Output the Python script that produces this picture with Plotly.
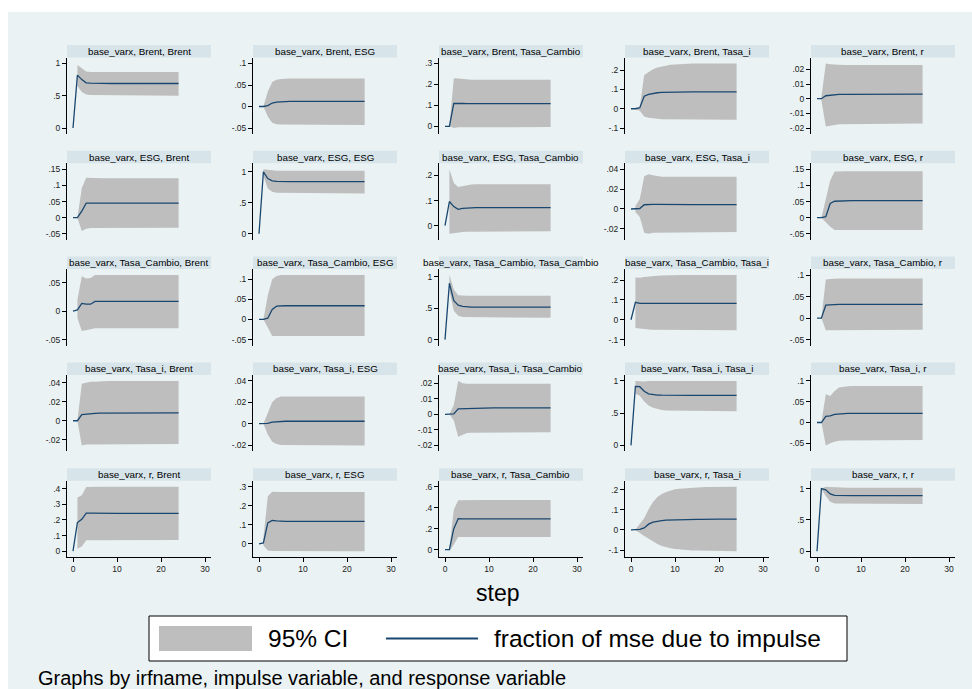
import plotly.graph_objects as go

# ---------------------------------------------------------------------------
# Forecast-error variance decomposition, steps 0..24
# rows = impulse variable, columns = response variable
# ---------------------------------------------------------------------------
irf_name = "base_varx"
variables = ["Brent", "ESG", "Tasa_Cambio", "Tasa_i", "r"]
x_ticks = [0, 10, 20, 30]

# impulse: Brent
brent_brent    = [0, .82, .75, .70, .695,  .692, .69, .69, .69, .69,  .69, .69, .69, .69, .69,  .69, .69, .69, .69, .69,  .69, .69, .69, .69, .69]
brent_brent_lo = [None, .65, .56, .52, .51,  .505, .50, .50, .50, .50,  .50, .50, .50, .50, .50,  .50, .50, .50, .50, .50,  .50, .50, .50, .50, .50]
brent_brent_hi = [None, .975, .92, .875, .87,  .87, .87, .87, .87, .87,  .87, .87, .87, .87, .87,  .87, .87, .87, .87, .87,  .87, .87, .87, .87, .87]
brent_brent_ticks = [0, .5, 1]

brent_esg    = [0, 0, .002, .008, .010,  .011, .0115, .012, .012, .012,  .012, .012, .012, .012, .012,  .012, .012, .012, .012, .012,  .012, .012, .012, .012, .012]
brent_esg_lo = [None, 0, -.023, -.038, -.041,  -.042, -.043, -.043, -.043, -.043,  -.043, -.043, -.043, -.043, -.043,  -.043, -.043, -.043, -.043, -.043,  -.043, -.043, -.043, -.043, -.043]
brent_esg_hi = [None, 0, .035, .057, .062,  .064, .065, .065, .065, .065,  .065, .065, .065, .065, .065,  .065, .065, .065, .065, .065,  .065, .065, .065, .065, .065]
brent_esg_ticks = [-.05, 0, .05, .1]

brent_tc    = [0, 0, .110, .111, .109,  .108, .108, .108, .108, .108,  .108, .108, .108, .108, .108,  .108, .108, .108, .108, .108,  .108, .108, .108, .108, .108]
brent_tc_lo = [None, 0, -.008, -.005, -.004,  -.003, -.003, -.003, -.003, -.003,  -.003, -.003, -.003, -.003, -.003,  -.003, -.003, -.003, -.003, -.003,  -.003, -.003, -.003, -.003, -.003]
brent_tc_hi = [None, 0, .230, .228, .225,  .223, .222, .222, .222, .222,  .222, .222, .222, .222, .222,  .222, .222, .222, .222, .222,  .222, .222, .222, .222, .222]
brent_tc_ticks = [0, .1, .2, .3]

brent_ti    = [0, 0, .005, .065, .075,  .080, .083, .085, .086, .087,  .087, .088, .088, .088, .088,  .088, .088, .088, .088, .088,  .088, .088, .088, .088, .088]
brent_ti_lo = [None, -.005, -.010, -.040, -.047,  -.050, -.052, -.054, -.055, -.056,  -.056, -.057, -.057, -.057, -.057,  -.057, -.057, -.057, -.057, -.057,  -.057, -.057, -.057, -.057, -.057]
brent_ti_hi = [None, .005, .012, .175, .192,  .205, .214, .220, .225, .228,  .230, .232, .233, .234, .235,  .235, .235, .235, .235, .235,  .235, .235, .235, .235, .235]
brent_ti_ticks = [-.1, 0, .1, .2]

brent_r    = [0, 0, .002, .0025, .0028,  .003, .003, .003, .0031, .0031,  .0031, .0031, .0031, .0031, .0031,  .0031, .0031, .0031, .0031, .0031,  .0031, .0031, .0031, .0031, .0031]
brent_r_lo = [None, -.001, -.019, -.0185, -.018,  -.0175, -.017, -.017, -.017, -.017,  -.017, -.017, -.017, -.017, -.017,  -.017, -.017, -.017, -.017, -.017,  -.017, -.017, -.017, -.017, -.017]
brent_r_hi = [None, .001, .024, .0235, .0232,  .023, .023, .023, .023, .023,  .023, .023, .023, .023, .023,  .023, .023, .023, .023, .023,  .023, .023, .023, .023, .023]
brent_r_ticks = [-.02, -.01, 0, .01, .02]

# impulse: ESG
esg_brent    = [0, 0, .020, .045, .045,  .045, .045, .045, .045, .045,  .045, .045, .045, .045, .045,  .045, .045, .045, .045, .045,  .045, .045, .045, .045, .045]
esg_brent_lo = [None, 0, -.041, -.034, -.032,  -.031, -.031, -.031, -.031, -.031,  -.031, -.031, -.031, -.031, -.031,  -.031, -.031, -.031, -.031, -.031,  -.031, -.031, -.031, -.031, -.031]
esg_brent_hi = [None, 0, .092, .124, .123,  .122, .122, .122, .122, .122,  .122, .122, .122, .122, .122,  .122, .122, .122, .122, .122,  .122, .122, .122, .122, .122]
esg_brent_ticks = [-.05, 0, .05, .1, .15]

esg_esg    = [0, 1.0, .89, .855, .845,  .84, .84, .84, .84, .84,  .84, .84, .84, .84, .84,  .84, .84, .84, .84, .84,  .84, .84, .84, .84, .84]
esg_esg_lo = [None, .93, .73, .68, .66,  .655, .65, .65, .65, .65,  .65, .65, .65, .65, .65,  .65, .65, .65, .65, .65,  .65, .65, .65, .65, .65]
esg_esg_hi = [None, 1.04, 1.03, 1.02, 1.018,  1.016, 1.016, 1.016, 1.016, 1.016,  1.016, 1.016, 1.016, 1.016, 1.016,  1.016, 1.016, 1.016, 1.016, 1.016,  1.016, 1.016, 1.016, 1.016, 1.016]
esg_esg_ticks = [0, .5, 1]

esg_tc    = [0, .096, .076, .065, .069,  .071, .072, .072, .072, .072,  .072, .072, .072, .072, .072,  .072, .072, .072, .072, .072,  .072, .072, .072, .072, .072]
esg_tc_lo = [None, -.032, -.030, -.027, -.025,  -.024, -.023, -.022, -.022, -.022,  -.022, -.022, -.022, -.022, -.022,  -.022, -.022, -.022, -.022, -.022,  -.022, -.022, -.022, -.022, -.022]
esg_tc_hi = [None, .224, .170, .154, .158,  .162, .164, .165, .165, .165,  .165, .165, .165, .165, .165,  .165, .165, .165, .165, .165,  .165, .165, .165, .165, .165]
esg_tc_ticks = [0, .1, .2]

esg_ti    = [0, 0, .0005, .0043, .0048,  .0047, .0046, .0045, .0045, .0045,  .0045, .0045, .0045, .0045, .0045,  .0045, .0045, .0045, .0045, .0045,  .0045, .0045, .0045, .0045, .0045]
esg_ti_lo = [None, -.003, -.008, -.024, -.025,  -.024, -.0235, -.0233, -.0233, -.0233,  -.0233, -.0233, -.0233, -.0233, -.0233,  -.0233, -.0233, -.0233, -.0233, -.0233,  -.0233, -.0233, -.0233, -.0233, -.0233]
esg_ti_hi = [None, .003, .010, .033, .035,  .034, .033, .0325, .0325, .0325,  .0325, .0325, .0325, .0325, .0325,  .0325, .0325, .0325, .0325, .0325,  .0325, .0325, .0325, .0325, .0325]
esg_ti_ticks = [-.02, 0, .02, .04]

esg_r    = [0, 0, .003, .044, .051,  .052, .053, .053, .053, .053,  .053, .053, .053, .053, .053,  .053, .053, .053, .053, .053,  .053, .053, .053, .053, .053]
esg_r_lo = [None, 0, -.015, -.028, -.038,  -.038, -.038, -.038, -.038, -.038,  -.038, -.038, -.038, -.038, -.038,  -.038, -.038, -.038, -.038, -.038,  -.038, -.038, -.038, -.038, -.038]
esg_r_hi = [None, 0, .060, .115, .143,  .144, .144, .144, .144, .144,  .144, .144, .144, .144, .144,  .144, .144, .144, .144, .144,  .144, .144, .144, .144, .144]
esg_r_ticks = [-.05, 0, .05, .1, .15]

# impulse: Tasa_Cambio
tc_brent    = [0, .002, .0134, .012, .012,  .017, .017, .017, .017, .017,  .017, .017, .017, .017, .017,  .017, .017, .017, .017, .017,  .017, .017, .017, .017, .017]
tc_brent_lo = [None, -.012, -.035, -.033, -.032,  -.030, -.030, -.030, -.030, -.030,  -.030, -.030, -.030, -.030, -.030,  -.030, -.030, -.030, -.030, -.030,  -.030, -.030, -.030, -.030, -.030]
tc_brent_hi = [None, .020, .061, .057, .058,  .063, .063, .063, .063, .063,  .063, .063, .063, .063, .063,  .063, .063, .063, .063, .063,  .063, .063, .063, .063, .063]
tc_brent_ticks = [-.05, 0, .05]

tc_esg    = [0, 0, .003, .025, .033,  .034, .034, .034, .034, .034,  .034, .034, .034, .034, .034,  .034, .034, .034, .034, .034,  .034, .034, .034, .034, .034]
tc_esg_lo = [None, 0, -.020, -.041, -.041,  -.041, -.041, -.041, -.041, -.041,  -.041, -.041, -.041, -.041, -.041,  -.041, -.041, -.041, -.041, -.041,  -.041, -.041, -.041, -.041, -.041]
tc_esg_hi = [None, 0, .060, .100, .108,  .110, .110, .110, .110, .110,  .110, .110, .110, .110, .110,  .110, .110, .110, .110, .110,  .110, .110, .110, .110, .110]
tc_esg_ticks = [-.05, 0, .05, .1]

tc_tc    = [0, .90, .62, .55, .53,  .52, .52, .52, .52, .52,  .52, .52, .52, .52, .52,  .52, .52, .52, .52, .52,  .52, .52, .52, .52, .52]
tc_tc_lo = [None, .78, .46, .38, .36,  .35, .35, .35, .35, .35,  .35, .35, .35, .35, .35,  .35, .35, .35, .35, .35,  .35, .35, .35, .35, .35]
tc_tc_hi = [None, 1.03, .80, .71, .70,  .70, .70, .70, .70, .70,  .70, .70, .70, .70, .70,  .70, .70, .70, .70, .70,  .70, .70, .70, .70, .70]
tc_tc_ticks = [0, .5, 1]

tc_ti    = [0, .088, .083, .083, .084,  .085, .085, .084, .084, .083,  .083, .083, .083, .083, .083,  .083, .083, .083, .083, .083,  .083, .083, .083, .083, .083]
tc_ti_lo = [None, -.042, -.045, -.047, -.049,  -.050, -.051, -.052, -.053, -.053,  -.053, -.053, -.053, -.053, -.053,  -.053, -.053, -.053, -.053, -.053,  -.053, -.053, -.053, -.053, -.053]
tc_ti_hi = [None, .213, .212, .215, .218,  .220, .222, .223, .224, .225,  .225, .225, .225, .225, .225,  .225, .225, .225, .225, .225,  .225, .225, .225, .225, .225]
tc_ti_ticks = [-.1, 0, .1, .2]

tc_r    = [0, 0, .030, .031, .032,  .032, .032, .032, .032, .032,  .032, .032, .032, .032, .032,  .032, .032, .032, .032, .032,  .032, .032, .032, .032, .032]
tc_r_lo = [None, 0, -.028, -.028, -.027,  -.027, -.027, -.027, -.027, -.027,  -.027, -.027, -.027, -.027, -.027,  -.027, -.027, -.027, -.027, -.027,  -.027, -.027, -.027, -.027, -.027]
tc_r_hi = [None, 0, .090, .091, .092,  .092, .092, .092, .092, .092,  .092, .092, .092, .092, .092,  .092, .092, .092, .092, .092,  .092, .092, .092, .092, .092]
tc_r_ticks = [-.05, 0, .05, .1]

# impulse: Tasa_i
ti_brent    = [0, 0, .0064, .0070, .0075,  .0078, .0080, .0080, .0082, .0082,  .0082, .0082, .0082, .0082, .0082,  .0082, .0082, .0082, .0082, .0082,  .0082, .0082, .0082, .0082, .0082]
ti_brent_lo = [None, 0, -.026, -.025, -.0245,  -.0245, -.0245, -.0245, -.0245, -.0245,  -.0245, -.0245, -.0245, -.0245, -.0245,  -.0245, -.0245, -.0245, -.0245, -.0245,  -.0245, -.0245, -.0245, -.0245, -.0245]
ti_brent_hi = [None, 0, .039, .040, .041,  .041, .0415, .042, .042, .042,  .042, .042, .042, .042, .042,  .042, .042, .042, .042, .042,  .042, .042, .042, .042, .042]
ti_brent_ticks = [-.02, 0, .02, .04]

ti_esg    = [0, 0, .0003, .0015, .0020,  .0022, .0023, .0023, .0023, .0023,  .0023, .0023, .0023, .0023, .0023,  .0023, .0023, .0023, .0023, .0023,  .0023, .0023, .0023, .0023, .0023]
ti_esg_lo = [None, 0, -.010, -.017, -.019,  -.020, -.0203, -.0203, -.0203, -.0203,  -.0203, -.0203, -.0203, -.0203, -.0203,  -.0203, -.0203, -.0203, -.0203, -.0203,  -.0203, -.0203, -.0203, -.0203, -.0203]
ti_esg_hi = [None, 0, .010, .020, .024,  .0253, .0255, .0255, .0255, .0255,  .0255, .0255, .0255, .0255, .0255,  .0255, .0255, .0255, .0255, .0255,  .0255, .0255, .0255, .0255, .0255]
ti_esg_ticks = [-.02, 0, .02, .04]

ti_tc    = [0, 0, .0003, .0035, .0036,  .0038, .0040, .0040, .0041, .0041,  .0041, .0041, .0041, .0041, .0041,  .0041, .0041, .0041, .0041, .0041,  .0041, .0041, .0041, .0041, .0041]
ti_tc_lo = [None, 0, -.004, -.0145, -.013,  -.012, -.0118, -.0115, -.0115, -.0115,  -.0115, -.0115, -.0115, -.0115, -.0115,  -.0115, -.0115, -.0115, -.0115, -.0115,  -.0115, -.0115, -.0115, -.0115, -.0115]
ti_tc_hi = [None, 0, .006, .0215, .0200,  .0197, .0196, .0196, .0196, .0196,  .0196, .0196, .0196, .0196, .0196,  .0196, .0196, .0196, .0196, .0196,  .0196, .0196, .0196, .0196, .0196]
ti_tc_ticks = [-.02, -.01, 0, .01, .02]

ti_ti    = [0, .913, .91, .84, .80,  .787, .78, .778, .776, .775,  .775, .775, .775, .775, .775,  .775, .775, .775, .775, .775,  .775, .775, .775, .775, .775]
ti_ti_lo = [None, .80, .77, .68, .62,  .585, .565, .55, .54, .535,  .53, .53, .53, .53, .53,  .53, .53, .53, .53, .53,  .53, .53, .53, .53, .53]
ti_ti_hi = [None, 1.0, .99, .99, 1.0,  1.0, 1.0, 1.0, 1.0, 1.0,  1.0, 1.0, 1.0, 1.0, 1.0,  1.0, 1.0, 1.0, 1.0, 1.0,  1.0, 1.0, 1.0, 1.0, 1.0]
ti_ti_ticks = [0, .5, 1]

ti_r    = [0, 0, .015, .016, .0197,  .021, .0215, .022, .022, .022,  .022, .022, .022, .022, .022,  .022, .022, .022, .022, .022,  .022, .022, .022, .022, .022]
ti_r_lo = [None, 0, -.055, -.050, -.046,  -.044, -.043, -.042, -.042, -.042,  -.042, -.042, -.042, -.042, -.042,  -.042, -.042, -.042, -.042, -.042,  -.042, -.042, -.042, -.042, -.042]
ti_r_hi = [None, 0, .068, .064, .076,  .084, .086, .087, .088, .088,  .088, .088, .088, .088, .088,  .088, .088, .088, .088, .088,  .088, .088, .088, .088, .088]
ti_r_ticks = [-.05, 0, .05, .1]

# impulse: r
r_brent    = [0, .183, .204, .243, .243,  .242, .242, .242, .242, .242,  .242, .242, .242, .242, .242,  .242, .242, .242, .242, .242,  .242, .242, .242, .242, .242]
r_brent_lo = [None, .015, .030, .070, .071,  .072, .072, .072, .072, .072,  .072, .072, .072, .072, .072,  .072, .072, .072, .072, .072,  .072, .072, .072, .072, .072]
r_brent_hi = [None, .343, .357, .410, .412,  .412, .412, .412, .412, .412,  .412, .412, .412, .412, .412,  .412, .412, .412, .412, .412,  .412, .412, .412, .412, .412]
r_brent_ticks = [0, .1, .2, .3, .4]

r_esg    = [0, .005, .110, .123, .120,  .118, .118, .118, .118, .118,  .118, .118, .118, .118, .118,  .118, .118, .118, .118, .118,  .118, .118, .118, .118, .118]
r_esg_lo = [None, -.009, -.035, -.038, -.039,  -.039, -.039, -.039, -.039, -.039,  -.039, -.039, -.039, -.039, -.039,  -.039, -.039, -.039, -.039, -.039,  -.039, -.039, -.039, -.039, -.039]
r_esg_hi = [None, .030, .250, .274, .272,  .272, .272, .272, .272, .272,  .272, .272, .272, .272, .272,  .272, .272, .272, .272, .272,  .272, .272, .272, .272, .272]
r_esg_ticks = [0, .1, .2, .3]

r_tc    = [0, 0, .200, .295, .293,  .293, .294, .294, .294, .294,  .294, .294, .294, .294, .294,  .294, .294, .294, .294, .294,  .294, .294, .294, .294, .294]
r_tc_lo = [None, -.015, .050, .120, .120,  .120, .120, .120, .120, .120,  .120, .120, .120, .120, .120,  .120, .120, .120, .120, .120,  .120, .120, .120, .120, .120]
r_tc_hi = [None, .015, .380, .470, .472,  .473, .473, .473, .473, .473,  .473, .473, .473, .473, .473,  .473, .473, .473, .473, .473,  .473, .473, .473, .473, .473]
r_tc_ticks = [0, .2, .4, .6]

r_ti    = [0, 0, .003, .010, .029,  .039, .044, .047, .049, .050,  .051, .052, .052, .053, .053,  .053, .053, .054, .054, .054,  .054, .054, .054, .054, .054]
r_ti_lo = [None, -.002, -.015, -.030, -.045,  -.058, -.070, -.080, -.087, -.091,  -.095, -.098, -.100, -.101, -.102,  -.103, -.104, -.104, -.105, -.105,  -.105, -.106, -.106, -.106, -.106]
r_ti_hi = [None, .002, .030, .059, .103,  .140, .165, .180, .190, .198,  .203, .206, .208, .210, .211,  .212, .213, .214, .214, .215,  .215, .215, .216, .216, .216]
r_ti_ticks = [-.1, 0, .1, .2]

r_r    = [0, 1.0, .98, .915, .893,  .889, .888, .888, .888, .888,  .888, .888, .888, .888, .888,  .888, .888, .888, .888, .888,  .888, .888, .888, .888, .888]
r_r_lo = [None, .99, .88, .79, .76,  .757, .755, .755, .755, .755,  .755, .755, .755, .755, .755,  .755, .755, .755, .755, .755,  .755, .755, .755, .755, .755]
r_r_hi = [None, 1.0, 1.03, 1.025, 1.02,  1.017, 1.015, 1.015, 1.015, 1.015,  1.015, 1.015, 1.015, 1.015, 1.015,  1.015, 1.015, 1.015, 1.015, 1.015,  1.015, 1.015, 1.015, 1.015, 1.015]
r_r_ticks = [0, .5, 1]

panels = [
    [(brent_brent, brent_brent_lo, brent_brent_hi, brent_brent_ticks),
     (brent_esg, brent_esg_lo, brent_esg_hi, brent_esg_ticks),
     (brent_tc, brent_tc_lo, brent_tc_hi, brent_tc_ticks),
     (brent_ti, brent_ti_lo, brent_ti_hi, brent_ti_ticks),
     (brent_r, brent_r_lo, brent_r_hi, brent_r_ticks)],
    [(esg_brent, esg_brent_lo, esg_brent_hi, esg_brent_ticks),
     (esg_esg, esg_esg_lo, esg_esg_hi, esg_esg_ticks),
     (esg_tc, esg_tc_lo, esg_tc_hi, esg_tc_ticks),
     (esg_ti, esg_ti_lo, esg_ti_hi, esg_ti_ticks),
     (esg_r, esg_r_lo, esg_r_hi, esg_r_ticks)],
    [(tc_brent, tc_brent_lo, tc_brent_hi, tc_brent_ticks),
     (tc_esg, tc_esg_lo, tc_esg_hi, tc_esg_ticks),
     (tc_tc, tc_tc_lo, tc_tc_hi, tc_tc_ticks),
     (tc_ti, tc_ti_lo, tc_ti_hi, tc_ti_ticks),
     (tc_r, tc_r_lo, tc_r_hi, tc_r_ticks)],
    [(ti_brent, ti_brent_lo, ti_brent_hi, ti_brent_ticks),
     (ti_esg, ti_esg_lo, ti_esg_hi, ti_esg_ticks),
     (ti_tc, ti_tc_lo, ti_tc_hi, ti_tc_ticks),
     (ti_ti, ti_ti_lo, ti_ti_hi, ti_ti_ticks),
     (ti_r, ti_r_lo, ti_r_hi, ti_r_ticks)],
    [(r_brent, r_brent_lo, r_brent_hi, r_brent_ticks),
     (r_esg, r_esg_lo, r_esg_hi, r_esg_ticks),
     (r_tc, r_tc_lo, r_tc_hi, r_tc_ticks),
     (r_ti, r_ti_lo, r_ti_hi, r_ti_ticks),
     (r_r, r_r_lo, r_r_hi, r_r_ticks)],
]

# ---------------------------------------------------------------------------
# Styling
# ---------------------------------------------------------------------------
W, H = 972, 689
FONT = "Liberation Sans, Arial, Helvetica, sans-serif"
BG = "#EAF2F3"
STRIP = "#D7E4EA"
CI_FILL = "#BEBEBE"
NAVY = "#1A476F"

COL_X0, COL_STEP, PANEL_W = 67, 186, 144
ROW_Y0, ROW_STEP, STRIP_H, PANEL_H = 45, 105.8, 12.5, 89
PAD_PX = 6


def px(x):
    return x / W


def py(y):
    return 1 - y / H


def tick_label(v):
    s = f"{v:g}"
    if s.startswith("0."):
        s = s[1:]
    elif s.startswith("-0."):
        s = "-" + s[2:]
    return s


fig = go.Figure()
shapes = [dict(type="rect", xref="paper", yref="paper", x0=px(8), x1=1.02,
               y0=-0.02, y1=py(12), fillcolor=BG, line_width=0, layer="below")]
annotations = []
layout_axes = {}

x_unit = (PANEL_W - 2 * PAD_PX) / 30.0
x_range = [-PAD_PX / x_unit, 30 + PAD_PX / x_unit]

for r, row in enumerate(panels):
    top = ROW_Y0 + r * ROW_STEP
    plot_top = top + STRIP_H
    plot_bot = top + PANEL_H
    for c, (est, lo, hi, ticks) in enumerate(row):
        k = r * 5 + c + 1
        xa = "x" if k == 1 else f"x{k}"
        ya = "y" if k == 1 else f"y{k}"
        x0 = COL_X0 + c * COL_STEP
        steps = list(range(len(est)))

        # confidence band as a closed polygon
        band_x = [s for s, v in zip(steps, hi) if v is not None]
        band_hi = [v for v in hi if v is not None]
        band_lo = [v for v in lo if v is not None]
        fig.add_trace(go.Scatter(
            x=band_x + band_x[::-1], y=band_hi + band_lo[::-1],
            fill="toself", fillcolor=CI_FILL, mode="lines", line=dict(width=0),
            hoverinfo="skip", showlegend=False, xaxis=xa, yaxis=ya))
        fig.add_trace(go.Scatter(
            x=steps, y=est, mode="lines", line=dict(color=NAVY, width=1.3),
            showlegend=False, xaxis=xa, yaxis=ya))

        lo_v = min(min(ticks), min(v for v in lo if v is not None), min(est))
        hi_v = max(max(ticks), max(v for v in hi if v is not None), max(est))
        inner = (plot_bot - plot_top) - 2 * PAD_PX
        pad = (hi_v - lo_v) * PAD_PX / inner

        bottom_row = r == len(panels) - 1
        layout_axes["xaxis" if k == 1 else f"xaxis{k}"] = dict(
            domain=[px(x0), px(x0 + PANEL_W)], anchor=ya, range=x_range,
            showgrid=False, zeroline=False,
            showline=bottom_row, linecolor="#000000", linewidth=1,
            ticks="outside" if bottom_row else "", ticklen=4, tickcolor="#000000",
            tickvals=x_ticks, showticklabels=bottom_row,
            tickfont=dict(family=FONT, size=8.5, color="#222222"))
        layout_axes["yaxis" if k == 1 else f"yaxis{k}"] = dict(
            domain=[py(plot_bot), py(plot_top)], anchor=xa,
            range=[lo_v - pad, hi_v + pad],
            tickvals=ticks, ticktext=[tick_label(t) for t in ticks],
            showgrid=True, gridcolor=BG, gridwidth=1, zeroline=False,
            showline=True, linecolor="#000000", linewidth=1,
            ticks="outside", ticklen=4, tickcolor="#000000",
            tickfont=dict(family=FONT, size=8.5, color="#222222"))

        # subtitle strip
        shapes.append(dict(type="rect", xref="paper", yref="paper",
                           x0=px(x0), x1=px(x0 + PANEL_W), y0=py(plot_top), y1=py(top),
                           fillcolor=STRIP, line_width=0, layer="below"))
        annotations.append(dict(
            text=f"{irf_name}, {variables[r]}, {variables[c]}",
            xref="paper", yref="paper", x=px(x0 + PANEL_W / 2), y=py(top + STRIP_H / 2),
            xanchor="center", yanchor="middle", showarrow=False,
            font=dict(family=FONT, size=9.8, color="#000000")))

# x-axis title
annotations.append(dict(text="step", xref="paper", yref="paper", x=px(497), y=py(593),
                        xanchor="center", yanchor="middle", showarrow=False,
                        font=dict(family=FONT, size=23, color="#000000")))

# legend box
shapes.append(dict(type="rect", xref="paper", yref="paper", x0=px(149), x1=px(847),
                   y0=py(661), y1=py(616), fillcolor="#FFFFFF",
                   line=dict(color="#000000", width=1)))
shapes.append(dict(type="rect", xref="paper", yref="paper", x0=px(159), x1=px(252),
                   y0=py(651), y1=py(626), fillcolor=CI_FILL, line_width=0))
shapes.append(dict(type="line", xref="paper", yref="paper", x0=px(386), x1=px(478),
                   y0=py(638.5), y1=py(638.5), line=dict(color=NAVY, width=2)))
annotations.append(dict(text="95% CI", xref="paper", yref="paper", x=px(266), y=py(638.5),
                        xanchor="left", yanchor="middle", showarrow=False,
                        font=dict(family=FONT, size=24.5, color="#000000")))
annotations.append(dict(text="fraction of mse due to impulse", xref="paper", yref="paper",
                        x=px(492), y=py(638.5), xanchor="left", yanchor="middle",
                        showarrow=False, font=dict(family=FONT, size=24.5, color="#000000")))

# note
annotations.append(dict(text="Graphs by irfname, impulse variable, and response variable",
                        xref="paper", yref="paper", x=px(36), y=py(678),
                        xanchor="left", yanchor="middle", showarrow=False,
                        font=dict(family=FONT, size=20, color="#000000")))

fig.update_layout(
    width=W, height=H, margin=dict(l=0, r=0, t=0, b=0),
    paper_bgcolor="#FFFFFF", plot_bgcolor="#FFFFFF",
    shapes=shapes, annotations=annotations, showlegend=False,
    **layout_axes)

fig.write_html("out.html")
